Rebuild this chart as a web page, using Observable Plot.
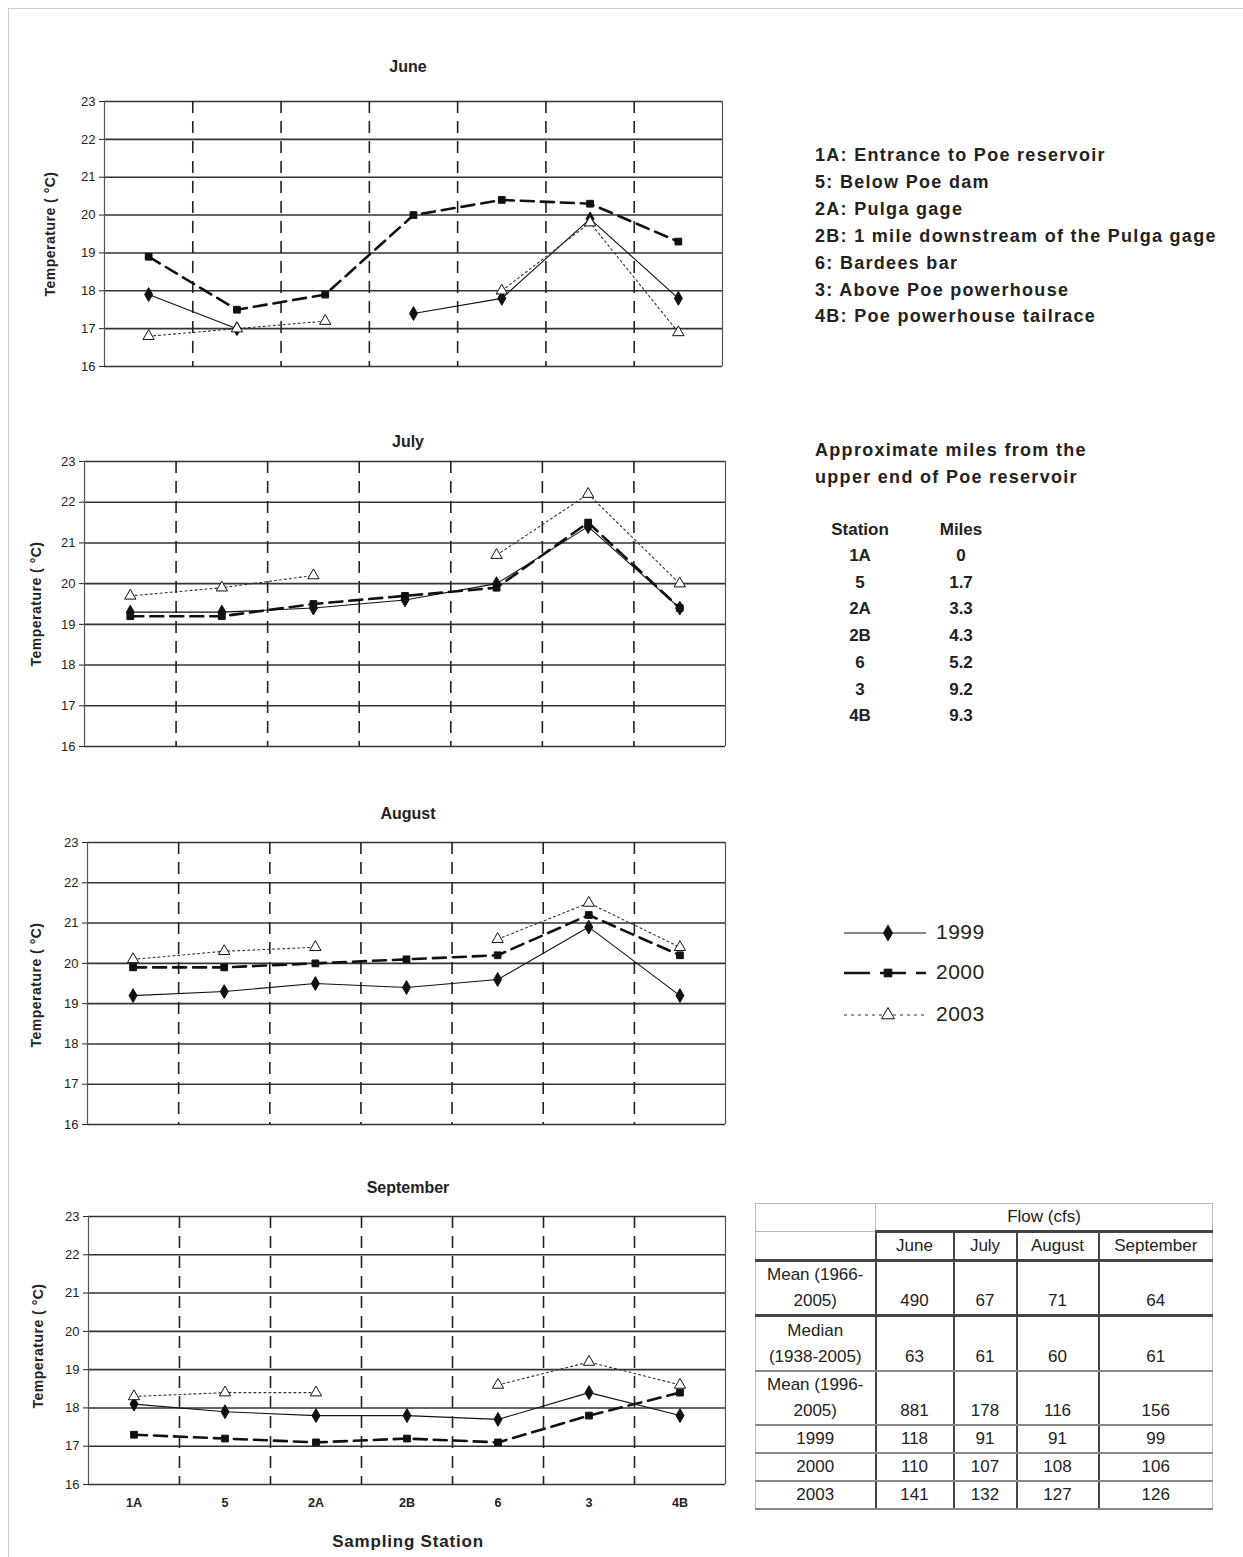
<!DOCTYPE html>
<html><head><meta charset="utf-8">
<script src="https://cdn.jsdelivr.net/npm/d3@7"></script>
<script src="https://cdn.jsdelivr.net/npm/@observablehq/plot@0.6"></script>
<style>
body{margin:0;background:#fff;font-family:"Liberation Sans",Arial,sans-serif;}
#page{position:relative;width:1243px;height:1557px;overflow:hidden;background:#fff;}
.abs{position:absolute;}
.frame{position:absolute;left:8px;top:8px;width:1240px;height:1560px;border-left:1px solid #ccc;border-top:1px solid #ccc;}
.title{font-weight:bold;font-size:16px;color:#222;transform:translateX(-50%);white-space:nowrap;}
.ylab{font-weight:bold;font-size:14px;letter-spacing:0.5px;color:#222;white-space:nowrap;transform:translate(-50%,-50%) rotate(-90deg);}
.xlab{font-weight:bold;font-size:17px;color:#222;transform:translateX(-50%);white-space:nowrap;letter-spacing:0.8px;}
.desc{font-weight:bold;font-size:18px;color:#222;white-space:nowrap;line-height:26.9px;letter-spacing:1.3px;}
.miles{font-weight:bold;font-size:17px;color:#222;white-space:nowrap;text-align:center;transform:translate(-50%,-50%);}
.leg{font-size:21px;color:#222;letter-spacing:0.5px;}
svg.panel g[aria-label^="y-axis"] text{font-size:13px;}
svg.sep g[aria-label^="x-axis"] text{font-weight:bold;font-size:12.5px;}
table.flow{position:absolute;left:755px;top:1203px;border-collapse:collapse;table-layout:fixed;font-size:17px;color:#222;}
table.flow td{padding:0 3px;text-align:center;vertical-align:bottom;line-height:26px;border:1px solid #bbb;overflow:hidden;white-space:nowrap;}
table.flow td.lab{line-height:26px;white-space:normal;}
</style></head><body><div id="page"><div class="frame"></div></div>
<script>
// ---------- data ----------
const stations = ["1A", "5", "2A", "2B", "6", "3", "4B"];
const months = ["June", "July", "August", "September"];
const years = ["1999", "2000", "2003"];
const yTicks = [16, 17, 18, 19, 20, 21, 22, 23];

const june1999 = [17.9, 17.0, null, 17.4, 17.8, 19.9, 17.8];
const june2000 = [18.9, 17.5, 17.9, 20.0, 20.4, 20.3, 19.3];
const june2003 = [16.8, 17.0, 17.2, null, 18.0, 19.8, 16.9];
const july1999 = [19.3, 19.3, 19.4, 19.6, 20.0, 21.4, 19.4];
const july2000 = [19.2, 19.2, 19.5, 19.7, 19.9, 21.5, 19.4];
const july2003 = [19.7, 19.9, 20.2, null, 20.7, 22.2, 20.0];
const aug1999 = [19.2, 19.3, 19.5, 19.4, 19.6, 20.9, 19.2];
const aug2000 = [19.9, 19.9, 20.0, 20.1, 20.2, 21.2, 20.2];
const aug2003 = [20.1, 20.3, 20.4, null, 20.6, 21.5, 20.4];
const sep1999 = [18.1, 17.9, 17.8, 17.8, 17.7, 18.4, 17.8];
const sep2000 = [17.3, 17.2, 17.1, 17.2, 17.1, 17.8, 18.4];
const sep2003 = [18.3, 18.4, 18.4, null, 18.6, 19.2, 18.6];

const stationDescriptions = [
  "1A: Entrance to Poe reservoir",
  "5: Below Poe dam",
  "2A: Pulga gage",
  "2B: 1 mile downstream of the Pulga gage",
  "6: Bardees bar",
  "3:  Above Poe powerhouse",
  "4B: Poe powerhouse tailrace"
];
const milesTitle = ["Approximate miles from the", "upper end of Poe reservoir"];
const milesStations = ["1A", "5", "2A", "2B", "6", "3", "4B"];
const milesValues = ["0", "1.7", "3.3", "4.3", "5.2", "9.2", "9.3"];

const flowHeader = "Flow (cfs)";
const flowRowLabels = ["Mean (1966-<br>2005)", "Median<br>(1938-2005)", "Mean (1996-<br>2005)", "1999", "2000", "2003"];
const flowJune = [490, 63, 881, 118, 110, 141];
const flowJuly = [67, 61, 178, 91, 107, 132];
const flowAugust = [71, 60, 116, 91, 108, 127];
const flowSeptember = [64, 61, 156, 99, 106, 126];

const seriesByMonth = {
  June: [june1999, june2000, june2003],
  July: [july1999, july2000, july2003],
  August: [aug1999, aug2000, aug2003],
  September: [sep1999, sep2000, sep2003]
};

// ---------- styles ----------
const yearStyle = {
  "1999": {stroke: "#111", strokeWidth: 1.1, dash: null, symbol: "diamond", fill: "#111", r: 4.2},
  "2000": {stroke: "#111", strokeWidth: 2.6, dash: "13,7", symbol: "square", fill: "#111", r: 3.8},
  "2003": {stroke: "#333", strokeWidth: 1.1, dash: "2,3", symbol: "triangle", fill: "#fff", r: 4.2}
};

const page = document.getElementById("page");
function add(html, cls, left, top) {
  const d = document.createElement("div");
  d.className = "abs " + cls;
  d.style.left = left + "px";
  d.style.top = top + "px";
  d.innerHTML = html;
  page.appendChild(d);
  return d;
}

const layout = {
  June:      {left: 20, top: 91,   width: 710, height: 285, ml: 84, mb: 10, title: [408, 58],  ylab: [50, 234]},
  July:      {left: 20, top: 451,  width: 713, height: 305, ml: 64, mb: 10, title: [408, 433], ylab: [36, 604]},
  August:    {left: 20, top: 832,  width: 713, height: 302, ml: 67, mb: 10, title: [408, 805], ylab: [36, 985]},
  September: {left: 20, top: 1206, width: 713, height: 318, ml: 68, mb: 40, title: [408, 1179], ylab: [38, 1346]}
};

const bounds = d3.range(0, stations.length + 1).map(i => i - 0.5);

months.forEach(month => {
  const L = layout[month];
  const isLast = month === "September";
  const marks = [
    Plot.ruleY(yTicks, {stroke: "#333", strokeWidth: 1.6}),
    Plot.ruleX(bounds.slice(1, -1), {stroke: "#222", strokeWidth: 1.6, strokeDasharray: "12,8"}),
    Plot.ruleX([bounds[0], bounds[bounds.length - 1]], {stroke: "#555", strokeWidth: 1.2})
  ];
  seriesByMonth[month].forEach((vals, k) => {
    const st = yearStyle[years[k]];
    const data = vals.map((v, i) => ({i, v, station: stations[i]}));
    marks.push(Plot.line(data, {x: "i", y: "v", stroke: st.stroke, strokeWidth: st.strokeWidth, strokeDasharray: st.dash}));
  });
  seriesByMonth[month].forEach((vals, k) => {
    const st = yearStyle[years[k]];
    const data = vals.map((v, i) => ({i, v})).filter(d => d.v != null);
    marks.push(Plot.dot(data, {x: "i", y: "v", symbol: st.symbol, fill: st.fill, stroke: "#111", strokeWidth: 1, r: st.r}));
  });
  const chart = Plot.plot({
    width: L.width,
    height: L.height,
    marginLeft: L.ml,
    marginRight: 8,
    marginTop: 10,
    marginBottom: L.mb,
    x: isLast
      ? {domain: [bounds[0], bounds[bounds.length - 1]], ticks: d3.range(stations.length), tickFormat: i => stations[i], tickSize: 0, tickPadding: 14, label: null}
      : {domain: [bounds[0], bounds[bounds.length - 1]], axis: null},
    y: {domain: [yTicks[0], yTicks[yTicks.length - 1]], ticks: yTicks, tickFormat: d => String(d), tickSize: 5, tickPadding: 4, label: null},
    style: {fontFamily: "Liberation Sans, Arial, sans-serif", fontSize: "13px", color: "#222", background: "transparent"},
    marks
  });
  chart.classList.add("panel");
  if (isLast) chart.classList.add("sep");
  chart.style.position = "absolute";
  chart.style.left = L.left + "px";
  chart.style.top = L.top + "px";
  page.appendChild(chart);
  add(month, "title", L.title[0], L.title[1]);
  add("Temperature ( °C)", "ylab", L.ylab[0], L.ylab[1]);
});
add("Sampling Station", "xlab", 408, 1532);

// station descriptions
add(stationDescriptions.join("<br>"), "desc", 815, 142);
// miles block
add(milesTitle.join("<br>"), "desc", 815, 437);
add("Station", "miles", 860, 530);
add("Miles", "miles", 961, 530);
milesStations.forEach((s, i) => {
  add(s, "miles", 860, 556 + i * 26.7);
  add(milesValues[i], "miles", 961, 556 + i * 26.7);
});

// legend
const legendRowsY = [933, 973, 1015];
years.forEach((yr, k) => {
  const st = yearStyle[yr];
  const svgNS = "http://www.w3.org/2000/svg";
  const svg = document.createElementNS(svgNS, "svg");
  svg.setAttribute("width", 90);
  svg.setAttribute("height", 20);
  svg.style.position = "absolute";
  svg.style.left = "840px";
  svg.style.top = (legendRowsY[k] - 10) + "px";
  const line = document.createElementNS(svgNS, "line");
  line.setAttribute("x1", 4); line.setAttribute("x2", 86);
  line.setAttribute("y1", 10); line.setAttribute("y2", 10);
  line.setAttribute("stroke", st.stroke);
  line.setAttribute("stroke-width", st.strokeWidth);
  if (st.dash) line.setAttribute("stroke-dasharray", k === 1 ? "26,10" : "3,4");
  svg.appendChild(line);
  const sym = d3.symbol().type(st.symbol === "diamond" ? d3.symbolDiamond : st.symbol === "square" ? d3.symbolSquare : d3.symbolTriangle).size(Math.PI * st.r * st.r * 1.3)();
  const p = document.createElementNS(svgNS, "path");
  p.setAttribute("d", sym);
  p.setAttribute("transform", "translate(48,10)");
  p.setAttribute("fill", st.fill);
  p.setAttribute("stroke", "#111");
  svg.appendChild(p);
  page.appendChild(svg);
  add(yr, "leg", 936, legendRowsY[k] - 13);
});

// flow table
const colWidths = [120, 78, 63, 82, 114];
const rowHeights = [28, 27, 54, 55, 53, 27, 26, 24];
const tbl = document.createElement("table");
tbl.className = "flow";
const cg = document.createElement("colgroup");
colWidths.forEach(w => { const c = document.createElement("col"); c.style.width = w + "px"; cg.appendChild(c); });
tbl.appendChild(cg);
tbl.style.width = d3.sum(colWidths) + "px";
let html = "";
html += `<tr style="height:${rowHeights[0]}px"><td style="border-bottom-color:#bbb"></td><td colspan="4" style="border-bottom:3px solid #444;vertical-align:middle">${flowHeader}</td></tr>`;
html += `<tr style="height:${rowHeights[1]}px"><td style="border-top-color:transparent"></td>` + months.map(m => `<td style="border-left:2px solid #444;vertical-align:middle">${m}</td>`).join("") + `</tr>`;
flowRowLabels.forEach((lab, r) => {
  const thick = r === 0 ? "3px solid #444" : "2px solid #888";
  const topB = r === 0 ? "border-top:3px solid #444;" : "";
  html += `<tr style="height:${rowHeights[r + 2]}px"><td class="lab" style="${topB}border-bottom:${thick}">${lab}</td>` +
    [flowJune, flowJuly, flowAugust, flowSeptember].map(col => `<td style="${topB}border-left:2px solid #444;border-bottom:${thick}">${col[r]}</td>`).join("") + `</tr>`;
});
tbl.innerHTML += html;
page.appendChild(tbl);
</script></body></html>
